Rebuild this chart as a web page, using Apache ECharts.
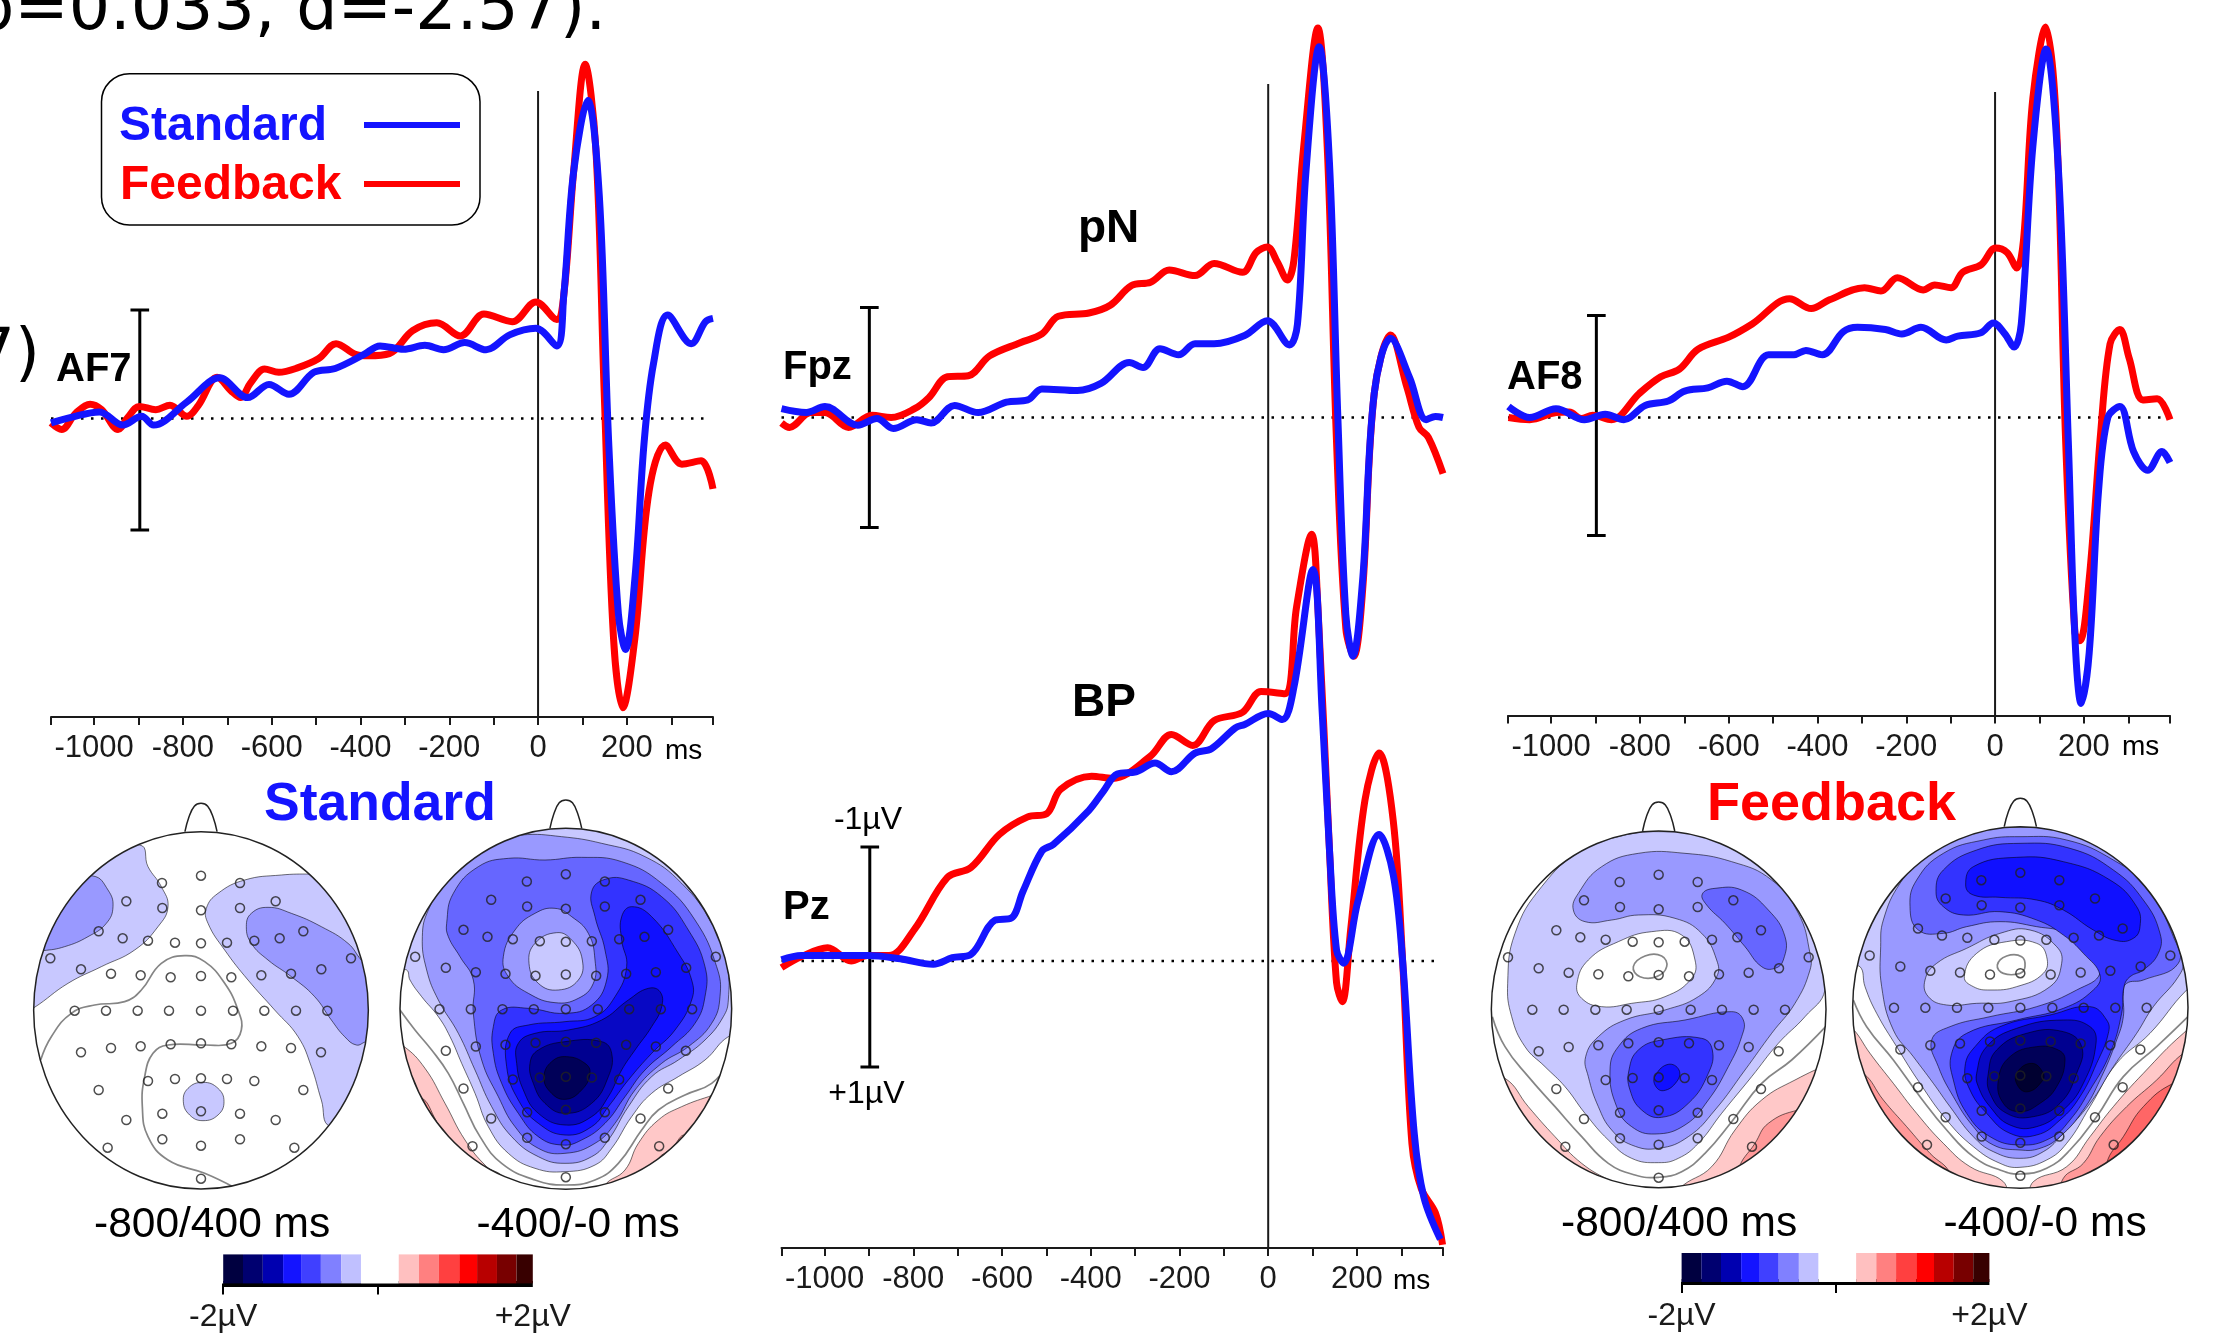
<!DOCTYPE html>
<html><head><meta charset="utf-8">
<style>html,body{margin:0;padding:0;background:#fff}#c{width:2214px;height:1341px}</style>
<script src="https://cdn.jsdelivr.net/npm/echarts@6/dist/echarts.min.js"></script>
</head><body><div id="c"></div>
<script>
// ---- ERP waveforms: [time ms, amplitude uV] (negative plotted upward)
const af7Feedback=[[-1097,.04],[-1073,.10],[-1041,-.05],[-1009,-.13],[-983,-.08],[-946,.10],[-924,-.01],[-898,-.11],[-861,-.08],[-829,-.12],[-791,-.02],[-765,-.12],[-723,-.375],[-691,-.25],[-670,-.19],[-648,-.32],[-616,-.45],[-584,-.42],[-542,-.46],[-494,-.545],[-455,-.68],[-409,-.58],[-383,-.57],[-335,-.59],[-282,-.80],[-228,-.87],[-175,-.75],[-122,-.95],[-58,-.88],[-5,-1.06],[42,-.90],[58,-1.125],[80,-2.24],[106,-3.22],[130,-2.46],[149,-.23],[170,2.0],[191,2.63],[218,2.0],[250,.66],[287,.24],[324,.415],[367,.385],[394,.64]];
const af7Standard=[[-1097,.04],[-1052,-.01],[-988,-.06],[-935,.06],[-893,-.02],[-866,.06],[-791,-.15],[-717,-.37],[-654,-.19],[-606,-.31],[-561,-.22],[-505,-.42],[-457,-.455],[-393,-.58],[-356,-.66],[-303,-.63],[-255,-.665],[-213,-.625],[-165,-.69],[-117,-.625],[-64,-.76],[-5,-.82],[42,-.66],[58,-1.125],[80,-2.24],[112,-2.89],[138,-2.02],[159,.21],[181,1.78],[197,2.10],[218,1.46],[239,.21],[260,-.5],[292,-.94],[345,-.68],[377,-.88],[394,-.91]];
const fpzFeedback=[[-1097,.05],[-1079,.09],[-1031,-.045],[-999,-.045],[-946,.09],[-893,-.02],[-850,0],[-797,-.08],[-765,-.18],[-723,-.37],[-676,-.38],[-628,-.56],[-559,-.68],[-510,-.76],[-473,-.92],[-404,-.95],[-356,-1.02],[-308,-1.20],[-265,-1.23],[-223,-1.34],[-165,-1.29],[-122,-1.40],[-58,-1.32],[-27,-1.50],[-2,-1.55],[21,-1.41],[43,-1.25],[58,-1.43],[80,-2.46],[112,-3.54],[133,-2.46],[154,.22],[175,1.92],[193,2.17],[213,1.56],[239,-.22],[276,-.75],[313,-.27],[340,.09],[361,.18],[394,.51]];
const fpzStandard=[[-1097,-.08],[-1041,-.045],[-999,-.10],[-925,.07],[-882,.01],[-845,.10],[-792,.02],[-760,.05],[-707,-.11],[-654,-.045],[-590,-.14],[-542,-.16],[-510,-.26],[-430,-.245],[-377,-.31],[-313,-.50],[-282,-.455],[-244,-.625],[-202,-.57],[-165,-.67],[-122,-.67],[-53,-.745],[-2,-.88],[48,-.66],[66,-.85],[85,-2.23],[115,-3.37],[138,-2.32],[157,0],[175,1.79],[191,2.17],[213,1.47],[239,-.22],[276,-.72],[319,-.36],[356,.02],[377,-.01],[394,0]];
const af8Feedback=[[-1096,0],[-1048,.02],[-989,-.045],[-959,-.05],[-932,.01],[-906,-.02],[-864,.02],[-801,-.22],[-753,-.37],[-711,-.44],[-669,-.62],[-600,-.73],[-547,-.85],[-463,-1.08],[-414,-.99],[-373,-1.07],[-294,-1.18],[-257,-1.15],[-220,-1.27],[-162,-1.16],[-136,-1.205],[-99,-1.18],[-73,-1.32],[-31,-1.39],[1,-1.54],[27,-1.50],[49,-1.36],[64,-1.61],[85,-2.90],[114,-3.55],[138,-2.68],[159,.22],[180,1.96],[191,2.03],[212,1.47],[238,.13],[259,-.67],[281,-.80],[302,-.54],[333,-.16],[365,-.17],[394,.02]];
const af8Standard=[[-1096,-.10],[-1048,0],[-989,-.08],[-925,.02],[-878,-.03],[-836,.02],[-788,-.11],[-736,-.15],[-699,-.24],[-647,-.27],[-604,-.33],[-568,-.28],[-510,-.57],[-453,-.57],[-426,-.61],[-389,-.57],[-342,-.78],[-310,-.82],[-247,-.80],[-210,-.76],[-167,-.82],[-110,-.705],[-84,-.74],[-32,-.77],[-4,-.86],[22,-.76],[43,-.64],[59,-.85],[85,-2.46],[115,-3.35],[143,-2.23],[165,.22],[180,2.01],[194,2.60],[212,2.14],[233,.67],[254,0],[281,-.10],[312,.31],[344,.48],[376,.31],[394,.41]];
const pzFeedback=[[-1097,.06],[-1052,-.04],[-993,-.12],[-940,0],[-903,-.05],[-855,-.05],[-797,-.29],[-723,-.76],[-670,-.85],[-606,-1.15],[-542,-1.31],[-499,-1.34],[-468,-1.56],[-398,-1.68],[-351,-1.66],[-266,-1.86],[-218,-2.06],[-170,-1.96],[-122,-2.185],[-58,-2.26],[-16,-2.45],[37,-2.43],[64,-3.22],[98,-3.88],[112,-3.22],[138,-1.02],[154,.195],[167,.37],[186,-.29],[218,-1.46],[250,-1.89],[282,-1.27],[303,0],[324,1.66],[345,2.07],[377,2.29],[393,2.58]];
const pzStandard=[[-1097,-.01],[-1052,-.05],[-903,-.05],[-829,-.02],[-755,.03],[-712,-.03],[-670,-.06],[-616,-.37],[-579,-.39],[-553,-.63],[-510,-1.0],[-484,-1.06],[-404,-1.37],[-372,-1.54],[-340,-1.70],[-298,-1.72],[-255,-1.80],[-218,-1.72],[-165,-1.89],[-128,-1.93],[-74,-2.12],[-53,-2.15],[0,-2.25],[32,-2.195],[58,-2.49],[101,-3.56],[122,-2.24],[138,-1.02],[154,-.10],[170,.02],[202,-.54],[250,-1.15],[282,-.78],[303,0],[329,1.56],[351,2.15],[388,2.53]];

const timeTicks=[-1097,-1000,-900,-800,-700,-600,-500,-400,-300,-200,-100,0,100,200,300,394];
const timeLabels=[-1000,-800,-600,-400,-200,0,200];

// ---- colour scale
const scaleEdges=[-2,-1.744,-1.488,-1.226,-.994,-.738,-.476,-.22,.268,.53,.787,1.05,1.28,1.537,1.79,2];
const scaleColors=['#000040','#000070','#0000b0','#1414ff','#4040ff','#8080ff','#c0c0ff','#ffffff','#ffc0c0','#ff8080','#ff4040','#ff0000','#b80000','#780000','#380000'];

// ---- electrode montage, offsets from the head centre (map units)
const electrodes=[[-117,-382],[0,-404],[117,-382],[-224,-327],[-116,-307],[0,-300],[117,-307],[224,-327],[-307,-237],[-235,-216],[-159,-209],[-78,-203],[0,-201],[78,-203],[160,-209],[236,-216],[307,-237],[-452,-156],[-360,-123],[-270,-110],[-181,-105],[-91,-99],[0,-103],[91,-99],[181,-105],[270,-110],[361,-123],[450,-156],[-379,1],[-285,1],[-190,1],[-96,1],[0,1],[96,1],[190,1],[285,1],[379,1],[-360,126],[-270,113],[-181,108],[-91,102],[0,99],[91,102],[181,108],[270,113],[360,126],[-307,239],[-159,212],[-78,206],[0,204],[78,206],[160,212],[307,239],[-224,329],[-116,310],[0,303],[117,310],[224,329],[-280,412],[-116,387],[0,406],[117,387],[280,412],[0,505]];

// ---- topographic contours (filled iso-regions and iso-lines, map units)
const L1='#c8c8ff',L2='#9999ff',L3='#6666ff',L4='#3333ff',L5='#1010ff',L6='#0808c4',L7='#000090',L8='#000058',L9='#000030',P1='#ffc8c8',P2='#ff9999',P3='#ff6666';
const standardEarly=[
 {fill:L1,pts:[[335,75],[360,140],[400,200],[420,260],[390,320],[320,390],[220,440],[120,490],[18,563],[-20,580],[-20,75]]},
 {fill:L2,pts:[[195,168],[240,210],[255,260],[235,310],[180,350],[110,380],[45,392],[-20,395],[-20,168]]},
 {fill:L1,pts:[[850,162],[760,165],[650,180],[570,220],[535,265],[540,310],[590,390],[660,480],[740,570],[810,650],[850,740],[880,840],[907,920],[1060,920],[1060,162]]},
 {fill:L2,pts:[[655,320],[670,280],[720,262],[790,280],[880,320],[960,370],[1000,420],[1060,480],[1060,660],[1015,665],[985,675],[950,650],[910,600],[860,530],[790,470],[720,420],[670,370]]},
 {fill:L1,pts:[[525,787],[570,805],[588,845],[570,885],[525,902],[485,885],[466,845],[480,805]]},
 {line:[[38,720],[70,650],[130,580],[200,555],[290,545],[340,510],[400,430],[470,407],[530,425],[590,490],[630,570],[640,630],[610,670],[530,675],[420,675],[375,700],[350,770],[343,860],[360,950],[420,1020],[530,1060],[620,1103]]}
];
const standardLate=[
 {fill:P1,pts:[[25,678],[90,745],[150,850],[210,960],[275,1040],[320,1070],[320,1130],[0,1130],[0,678]]},
 {fill:P2,pts:[[80,835],[125,905],[170,985],[120,1000],[50,880]]},
 {fill:P1,pts:[[630,1095],[690,1050],[730,970],[790,900],[860,860],[955,825],[1030,800],[1030,1130],[630,1130]]},
 {fill:P2,pts:[[790,1020],[830,985],[870,945],[900,1000],[810,1060]]},
 {line:[[15,570],[60,630],[110,690],[160,760],[205,850],[255,950],[320,1030],[420,1080],[510,1095],[600,1080],[670,1030],[740,930],[790,870],[870,825],[950,790],[1000,730]]},
 {fill:L1,pts:[[35,450],[45,480],[80,530],[130,590],[165,650],[200,730],[240,820],[280,920],[340,1000],[420,1045],[510,1055],[600,1035],[650,985],[710,890],[770,820],[850,770],[930,720],[1000,650],[1040,650],[1040,-20],[0,-20],[0,450]]},
 {fill:L2,pts:[[100,270],[170,150],[260,70],[380,45],[500,50],[620,70],[750,110],[860,190],[950,310],[995,430],[1000,540],[985,590],[930,660],[850,720],[770,770],[700,860],[640,960],[590,1010],[510,1030],[430,1010],[350,950],[290,860],[240,750],[190,640],[130,540],[95,450],[82,350]]},
 {fill:L3,pts:[[155,310],[175,220],[250,140],[340,115],[450,120],[560,112],[680,125],[800,190],[900,300],[965,440],[975,530],[950,610],[880,680],[800,730],[720,810],[660,910],[600,970],[510,1000],[430,985],[360,920],[310,830],[260,720],[235,580],[235,480],[195,410],[160,350]]},
 {fill:L4,pts:[[590,215],[630,178],[700,180],[800,230],[880,330],[930,440],[930,530],[900,610],[830,680],[750,750],[690,830],[630,910],[560,960],[500,975],[430,950],[370,880],[320,790],[295,700],[295,620],[320,570],[400,565],[510,580],[590,555],[635,480],[630,390],[600,290]]},
 {fill:L5,pts:[[680,290],[710,260],[770,290],[850,400],[890,480],[890,540],[840,630],[770,700],[700,780],[640,860],[590,920],[510,945],[430,910],[370,840],[335,740],[345,640],[400,615],[510,605],[600,590],[660,530],[695,440],[680,360]]},
 {fill:L6,pts:[[760,505],[795,515],[800,560],[770,620],[720,690],[680,750],[640,830],[590,890],[510,915],[430,880],[385,810],[365,730],[370,670],[420,640],[520,630],[620,600],[700,540]]},
 {fill:L7,pts:[[510,665],[620,665],[650,700],[640,770],[590,850],[510,880],[450,850],[415,790],[405,730],[430,690]]},
 {fill:L8,pts:[[515,710],[570,730],[585,760],[560,810],[510,838],[465,815],[447,770],[470,725]]},
 {fill:L2,pts:[[480,265],[530,290],[580,340],[600,420],[595,490],[550,535],[480,548],[400,520],[340,470],[325,410],[360,330],[420,280]]},
 {fill:L1,pts:[[485,338],[530,360],[562,420],[550,480],[490,510],[430,490],[402,430],[420,370]]}
];
const feedbackEarly=[
 {fill:P1,pts:[[60,775],[130,860],[210,950],[290,1030],[380,1085],[430,1110],[430,1140],[0,1140],[0,775]]},
 {fill:P1,pts:[[585,1105],[680,1040],[750,930],[830,840],[930,780],[1040,730],[1060,730],[1060,1140],[585,1140]]},
 {fill:P2,pts:[[760,1050],[810,970],[850,910],[940,870],[1040,860],[1040,1140],[760,1140]]},
 {line:[[22,590],[60,680],[130,770],[210,860],[290,950],[370,1030],[450,1065],[520,1072],[590,1055],[660,1000],[740,905],[830,790],[920,720],[1022,620]]},
 {fill:L1,pts:[[521,35],[700,55],[860,150],[960,290],[1000,400],[1020,510],[960,590],[880,670],[800,770],[710,880],[640,970],[580,1015],[521,1028],[440,1015],[370,960],[300,880],[240,800],[180,740],[120,680],[80,590],[68,490],[90,340],[170,200],[290,90],[400,50]]},
 {fill:L2,pts:[[265,270],[280,220],[350,140],[460,100],[600,100],[740,125],[860,180],[940,280],[975,400],[975,450],[930,550],[860,640],[780,750],[690,870],[610,950],[521,985],[440,975],[380,930],[340,860],[310,770],[302,710],[340,650],[420,600],[540,570],[640,530],[695,470],[695,420],[650,340],[570,295],[460,285],[380,300],[300,305]]},
 {fill:L3,pts:[[652,222],[690,205],[770,210],[850,270],[900,350],[895,420],[870,445],[830,440],[780,380],[720,310],[665,255]]},
 {fill:L3,pts:[[375,750],[400,680],[470,625],[600,600],[740,575],[775,600],[770,650],[730,740],[670,840],[600,915],[510,942],[440,920],[395,860]]},
 {fill:L4,pts:[[432,750],[460,690],[530,660],[650,655],[682,690],[670,760],[610,850],[530,892],[470,870],[435,810]]},
 {fill:L5,pts:[[512,765],[550,733],[582,750],[575,785],[535,812],[510,795]]},
 {fill:'#ffffff',pts:[[276,490],[310,420],[400,365],[500,335],[590,345],[630,420],[620,475],[540,530],[440,550],[350,560],[290,535]]},
 {ring:[[445,440],[480,408],[530,408],[545,440],[515,470],[465,470]]}
];
const feedbackLate=[
 {fill:P1,pts:[[12,630],[60,700],[130,790],[200,880],[280,970],[360,1040],[460,1085],[460,1130],[0,1130],[0,630]]},
 {fill:P1,pts:[[550,1085],[650,1040],[720,950],[790,860],[880,760],[1000,640],[1040,620],[1040,1130],[550,1130]]},
 {fill:P2,pts:[[40,760],[100,840],[170,920],[240,1000],[300,1060],[300,1130],[0,1130],[0,760]]},
 {fill:P2,pts:[[640,1075],[700,1030],[750,950],[830,860],[920,780],[1000,700],[1040,690],[1040,1130],[640,1130]]},
 {fill:P3,pts:[[90,880],[150,950],[210,1030],[100,1100],[40,900]]},
 {fill:P3,pts:[[770,1030],[820,950],[880,860],[970,790],[1040,780],[1040,1130],[770,1130]]},
 {line:[[10,540],[50,620],[130,720],[210,830],[290,930],[370,1010],[450,1050],[510,1062],[590,1045],[660,990],[740,890],[820,770],[920,680],[1014,590]]},
 {fill:L1,pts:[[30,440],[45,500],[80,580],[140,680],[210,790],[290,900],[370,980],[450,1030],[510,1042],[590,1020],[650,970],[720,860],[800,730],[900,640],[1010,510],[1040,500],[1040,-20],[-10,-20],[-10,440]]},
 {fill:L2,pts:[[92,380],[100,300],[150,190],[230,100],[350,40],[510,22],[650,40],[800,100],[900,190],[970,310],[1000,420],[985,470],[910,560],[860,640],[790,740],[720,850],[640,940],[580,995],[510,1015],[430,995],[370,950],[300,860],[250,790],[190,710],[130,630],[95,500]]},
 {fill:L3,pts:[[180,260],[200,180],[280,100],[400,60],[510,50],[650,60],[790,120],[890,200],[970,350],[985,430],[880,480],[830,490],[820,520],[820,590],[800,660],[750,780],[700,870],[630,950],[570,985],[510,990],[430,975],[370,920],[310,830],[265,740],[245,660],[300,620],[420,590],[560,560],[680,510],[750,460],[720,400],[650,340],[560,320],[450,305],[350,320],[280,340],[205,330]]},
 {fill:L4,pts:[[258,215],[280,150],[380,90],[510,70],[660,85],[790,150],[880,240],[930,340],[925,400],[880,450],[840,470],[822,500],[815,580],[780,700],[720,810],[660,900],[600,955],[510,975],[420,950],[350,880],[310,780],[305,700],[350,640],[500,600],[640,565],[730,510],[750,465],[700,400],[640,345],[560,300],[450,275],[340,285],[280,260]]},
 {fill:L5,pts:[[347,195],[370,140],[500,112],[640,125],[780,180],[860,260],[870,320],[850,355],[800,362],[730,330],[640,270],[560,240],[450,232],[370,225]]},
 {fill:L5,pts:[[345,740],[375,680],[450,620],[600,585],[720,560],[770,600],[775,640],[740,730],[690,830],[630,900],[560,945],[480,940],[410,880],[360,810]]},
 {fill:L6,pts:[[380,760],[410,680],[500,625],[640,600],[720,620],[738,670],[700,790],[640,870],[560,920],[480,915],[420,860],[385,800]]},
 {fill:L7,pts:[[415,760],[440,690],[530,640],[640,635],[695,680],[680,760],[630,850],[550,890],[470,880],[420,820]]},
 {fill:L8,pts:[[445,780],[480,710],[560,680],[625,690],[645,720],[620,800],[570,850],[510,875],[460,850]]},
 {fill:L9,pts:[[500,760],[545,730],[580,760],[575,785],[535,815],[505,800]]},
 {fill:L1,pts:[[225,480],[260,430],[350,385],[450,340],[540,330],[620,380],[635,430],[600,500],[480,545],[380,550],[290,555],[235,530]]},
 {fill:'#ffffff',pts:[[343,470],[380,400],[470,365],[560,370],[590,410],[580,460],[500,500],[420,510],[370,500]]},
 {ring:[[442,435],[470,408],[515,410],[525,440],[510,460],[460,460]]}
];

// ---- layout
const BLUE='#1414ff',RED='#ff0000',INK='#1a1a1a',SANS='"Liberation Sans",Arial,sans-serif';
const PXUV=110;
const panels=[
 {left:51,right:713,zero:418.5,axis:717,top:20,vTop:91,f:af7Feedback,s:af7Standard,bar:-897,mid:.014,showAxis:true},
 {left:781.5,right:1443,zero:417.5,axis:700,top:20,vTop:null,f:fpzFeedback,s:fpzStandard,bar:-899,mid:0,showAxis:false},
 {left:1508,right:2170,zero:417.5,axis:715.6,top:20,vTop:92,f:af8Feedback,s:af8Standard,bar:-898,mid:.073,showAxis:true},
 {left:781.5,right:1443,zero:961,axis:1248,top:20,vTop:84,f:pzFeedback,s:pzStandard,bar:-898,mid:-.036,showAxis:true}
];
const grid=[],xAxis=[],yAxis=[],series=[];
panels.forEach((p,i)=>{
 grid.push({left:p.left,top:p.top,width:p.right-p.left,height:p.axis-p.top});
 xAxis.push({gridIndex:i,type:'value',min:-1097,max:394,show:p.showAxis,splitLine:{show:false},
  axisLine:{onZero:false,lineStyle:{color:INK,width:2}},
  axisTick:{show:true,length:8,lineStyle:{color:INK,width:2},customValues:timeTicks},
  axisLabel:{show:true,color:INK,fontFamily:SANS,fontSize:31,margin:16,customValues:timeLabels,formatter:v=>String(v)}});
 const vmin=(p.top-p.zero)/PXUV,vmax=(p.axis-p.zero)/PXUV;
 yAxis.push({gridIndex:i,type:'value',inverse:true,min:vmin,max:vmax,show:false,splitLine:{show:false}});
 const base={type:'line',xAxisIndex:i,yAxisIndex:i,symbol:'none',silent:true,animation:false};
 series.push({...base,name:'zero',data:[[-1097,0],[380,0]],lineStyle:{color:'#000',width:2.5,type:[2.5,7.5]}});
 if(p.vTop!==null) series.push({...base,name:'onset',data:[[0,(p.vTop-p.zero)/PXUV],[0,vmax]],lineStyle:{color:INK,width:2}});
 const lo=p.mid-1,hi=p.mid+1;
 series.push({...base,name:'scale',data:[[p.bar-21,lo],[p.bar+21,lo],[p.bar,lo],[p.bar,hi],[p.bar-21,hi],[p.bar+21,hi]],lineStyle:{color:'#000',width:3,cap:'butt'}});
 series.push({...base,name:'Feedback',data:p.f,smooth:.35,lineStyle:{color:RED,width:7},z:4});
 series.push({...base,name:'Standard',data:p.s,smooth:.35,lineStyle:{color:BLUE,width:7},z:5});
});

// scalp maps: one map unit = 1/3 px
const maps=[
 {layers:standardEarly,ox:28,oy:820,cx:519,cy:571,rx:502,ry:536,nose:-50,xr:[-15,1040],yr:[-90,1125]},
 {layers:standardLate,ox:395,oy:820,cx:512.5,cy:566.5,rx:497.5,ry:541.5,nose:-60,xr:[-10,1035],yr:[-90,1125]},
 {layers:feedbackEarly,ox:1485,oy:820,cx:521,cy:568,rx:502,ry:535,nose:-54,xr:[-10,1045],yr:[-90,1125]},
 {layers:feedbackLate,ox:1850,oy:820,cx:511,cy:562.5,rx:503,ry:542.5,nose:-65,xr:[-10,1040],yr:[-90,1125]}
];
const UNIT=3;
maps.forEach(m=>{
 const gi=grid.length;
 grid.push({left:m.ox+m.xr[0]/UNIT,top:m.oy+m.yr[0]/UNIT,width:(m.xr[1]-m.xr[0])/UNIT,height:(m.yr[1]-m.yr[0])/UNIT});
 xAxis.push({gridIndex:gi,type:'value',min:m.xr[0],max:m.xr[1],show:false,splitLine:{show:false}});
 yAxis.push({gridIndex:gi,type:'value',inverse:true,min:m.yr[0],max:m.yr[1],show:false,splitLine:{show:false}});
 const items=m.layers;
 const cus={type:'custom',coordinateSystem:'cartesian2d',xAxisIndex:gi,yAxisIndex:gi,silent:true,animation:false};
 series.push({...cus,clip:true,z:2,
  data:items.map((_,k)=>[m.cx,m.cy,k]),
  renderItem(params,api){
   const it=items[params.dataIndex];
   const P=a=>a.map(q=>api.coord(q));
   if(it.fill) return {type:'polygon',shape:{points:P(it.pts),smooth:.45},style:{fill:it.fill,stroke:'rgba(0,0,0,.55)',lineWidth:1}};
   if(it.line) return {type:'polyline',shape:{points:P(it.line),smooth:.45},style:{fill:null,stroke:'#858585',lineWidth:1.7}};
   return {type:'polygon',shape:{points:P(it.ring),smooth:.45},style:{fill:'none',stroke:'#858585',lineWidth:1.7}};
  }});
 const top=['mask','head','nose'];
 series.push({...cus,clip:false,z:3,
  data:top.map((_,k)=>[m.cx,m.cy,k]),
  renderItem(params,api){
   const kind=top[params.dataIndex];
   const P=a=>a.map(q=>api.coord(q));
   const c=api.coord([m.cx,m.cy]),e=api.coord([m.cx+m.rx,m.cy+m.ry]),rx=e[0]-c[0],ry=e[1]-c[1];
   const ell=`M${c[0]-rx} ${c[1]}A${rx} ${ry} 0 1 0 ${c[0]+rx} ${c[1]}A${rx} ${ry} 0 1 0 ${c[0]-rx} ${c[1]}Z`;
   if(kind==='mask'){
    const a=api.coord([m.xr[0],m.yr[0]]),b=api.coord([m.xr[1],m.yr[1]]);
    const x0=a[0]-5,y0=a[1]-5,x1=b[0]+5,y1=b[1]+5;
    return {type:'path',shape:{pathData:`M${x0} ${y0}L${x1} ${y0}L${x1} ${y1}L${x0} ${y1}Z`+ell},style:{fill:'#fff',stroke:null}};
   }
   if(kind==='head') return {type:'path',shape:{pathData:ell},style:{fill:'none',stroke:'#222',lineWidth:1.5}};
   const t=m.cy-m.ry,d=t-m.nose,w=m.rx;
   return {type:'polyline',shape:{points:P([[m.cx-.096*w,t],[m.cx-.073*w,t-.5*d],[m.cx-.04*w,t-.9*d],[m.cx,m.nose],[m.cx+.04*w,t-.9*d],[m.cx+.073*w,t-.5*d],[m.cx+.096*w,t]]),smooth:.4},style:{fill:null,stroke:'#222',lineWidth:1.5}};
  }});
 series.push({type:'scatter',xAxisIndex:gi,yAxisIndex:gi,silent:true,animation:false,z:4,symbol:'circle',symbolSize:9,
  data:electrodes.map(e=>[m.cx+e[0],m.cy+e[1]]),
  itemStyle:{color:'rgba(0,0,0,0)',borderColor:'#222',borderWidth:1.5}});
});

// colour bars
[{left:223.2,width:309.6,top:1254.4},{left:1681.6,width:307.8,top:1253}].forEach(b=>{
 const gi=grid.length;
 grid.push({left:b.left,top:b.top,width:b.width,height:29});
 xAxis.push({gridIndex:gi,type:'value',min:-2,max:2,splitLine:{show:false},
  axisLine:{onZero:false,lineStyle:{color:'#000',width:6,cap:'butt'}},
  axisTick:{show:true,length:11,lineStyle:{color:'#000',width:2},customValues:[-2,0]},
  axisLabel:{color:INK,fontFamily:SANS,fontSize:32,margin:18,customValues:[-2,2],formatter:v=>(v<0?'-2':'+2')+'\u00b5V'}});
 yAxis.push({gridIndex:gi,type:'value',min:0,max:1,show:false,splitLine:{show:false}});
 series.push({type:'custom',coordinateSystem:'cartesian2d',xAxisIndex:gi,yAxisIndex:gi,silent:true,animation:false,
  data:scaleColors.map((c,k)=>[scaleEdges[k],scaleEdges[k+1]]),
  renderItem(params,api){
   const a=api.coord([api.value(0),1]),b=api.coord([api.value(1),0]);
   return {type:'rect',shape:{x:a[0],y:a[1],width:b[0]-a[0],height:b[1]-a[1]},style:{fill:scaleColors[params.dataIndex]}};
  }});
});

// text and legend
function T(text,x,base,size,opt={}){
 return {type:'text',z:50,silent:true,style:{text,x,y:base-.35*size,fill:opt.color||'#000',textAlign:opt.align||'left',textVerticalAlign:'middle',verticalAlign:'middle',
  font:`${opt.bold?'bold ':''}${size}px ${opt.family||SANS}`}};
}
const graphic=[
 T('p=0.033, d=-2.57).',-27,35,65,{family:'"DejaVu Sans"'}),
 T('7)',40,380,64,{family:'"DejaVu Sans"',align:'right'}),
 T('AF7',56,384,40,{bold:1}),T('Fpz',783,382,40,{bold:1}),T('AF8',1507,392,40,{bold:1}),T('Pz',783,922,40,{bold:1}),
 T('pN',1078,245,46,{bold:1}),T('BP',1072,719.5,46,{bold:1}),
 T('-1\u00b5V',868,831.5,32,{align:'center'}),T('+1\u00b5V',866.5,1105,32,{align:'center'}),
 T('ms',665,761,28),T('ms',1393,1291,28),T('ms',2122,757,28),
 T('Standard',264,824,53.5,{bold:1,color:BLUE}),T('Feedback',1707,824,54,{bold:1,color:RED}),
 T('-800/400 ms',94,1240,42.5),T('-400/-0 ms',476.6,1240,42.5),T('-800/400 ms',1561,1239,42.5),T('-400/-0 ms',1943.6,1239,42.5),
 {type:'rect',z:40,silent:true,shape:{x:101.5,y:73.7,width:378.5,height:151.3,r:28},style:{fill:'rgba(255,255,255,0)',stroke:'#000',lineWidth:1.5}},
 T('Standard',119,144,48,{bold:1,color:BLUE}),T('Feedback',120,203,48,{bold:1,color:RED}),
 {type:'line',z:41,silent:true,shape:{x1:364,y1:125,x2:460,y2:125},style:{stroke:BLUE,lineWidth:6}},
 {type:'line',z:41,silent:true,shape:{x1:364,y1:184,x2:460,y2:184},style:{stroke:RED,lineWidth:6}}
];

const chart=echarts.init(document.getElementById('c'),null,{renderer:'canvas'});
chart.setOption({animation:false,backgroundColor:'#fff',grid,xAxis,yAxis,series,graphic});
</script></body></html>
